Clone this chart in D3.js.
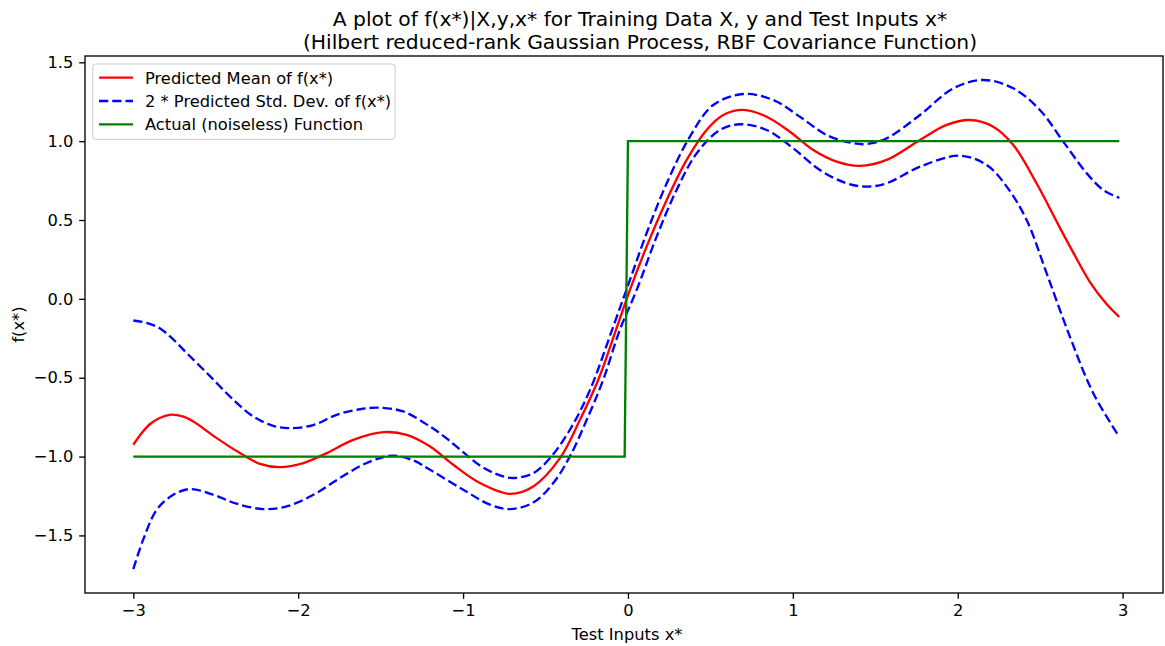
<!DOCTYPE html>
<html>
<head>
<meta charset="utf-8">
<script src="https://cdn.jsdelivr.net/npm/d3@7"></script>
<style>
  html, body { margin: 0; padding: 0; background: #fff; }
  svg { display: block; font-family: "DejaVu Sans", sans-serif; }
</style>
</head>
<body>
<svg id="chart" width="1165" height="646"></svg>
<script>
// ---------------- data ----------------
const titleLines = [
  "A plot of f(x*)|X,y,x* for Training Data X, y and Test Inputs x*",
  "(Hilbert reduced-rank Gaussian Process, RBF Covariance Function)"
];
const xLabel = "Test Inputs x*";
const yLabel = "f(x*)";
const legendLabels = [
  "Predicted Mean of f(x*)",
  "2 * Predicted Std. Dev. of f(x*)",
  "Actual (noiseless) Function"
];
const xTicks = [-3, -2, -1, 0, 1, 2, 3];
const yTicks = [-1.5, -1.0, -0.5, 0.0, 0.5, 1.0, 1.5];

const meanX = [-3.0, -2.95, -2.9, -2.84, -2.78, -2.7, -2.636, -2.494, -2.353, -2.232, -2.11, -1.969, -1.827,
  -1.666, -1.48, -1.342, -1.2, -1.059, -0.897, -0.716, -0.574, -0.412, -0.291, -0.18, -0.069, 0.012,
  0.113, 0.235, 0.356, 0.477, 0.578, 0.699, 0.841, 0.982, 1.124, 1.266, 1.407, 1.569, 1.771, 1.933,
  2.074, 2.215, 2.337, 2.478, 2.62, 2.7, 2.8, 2.9, 2.98];
const meanY = [-0.925, -0.852, -0.795, -0.755, -0.735, -0.745, -0.777, -0.883, -0.978, -1.046, -1.067, -1.041, -0.978,
  -0.894, -0.845, -0.862, -0.936, -1.052, -1.168, -1.236, -1.189, -1.01, -0.767, -0.513, -0.186, 0.057,
  0.331, 0.627, 0.881, 1.071, 1.166, 1.198, 1.155, 1.06, 0.944, 0.87, 0.843, 0.881, 1.008, 1.103,
  1.134, 1.092, 0.976, 0.733, 0.45, 0.295, 0.11, -0.03, -0.115];

const upperX = [-3.0, -2.92, -2.84, -2.76, -2.676, -2.535, -2.393, -2.272, -2.151, -2.05, -1.908, -1.767, -1.625, -1.514,
  -1.363, -1.2, -1.1, -1.0, -0.9, -0.8, -0.7, -0.574, -0.473, -0.352, -0.23, -0.089, 0.012, 0.113,
  0.235, 0.376, 0.517, 0.699, 0.881, 1.043, 1.205, 1.366, 1.45, 1.569, 1.771, 1.973, 2.155, 2.337,
  2.498, 2.64, 2.782, 2.882, 2.98];
const upperY = [-0.137, -0.152, -0.186, -0.255, -0.344, -0.49, -0.64, -0.746, -0.805, -0.82, -0.8, -0.735, -0.7, -0.69,
  -0.714, -0.81, -0.885, -0.972, -1.055, -1.11, -1.136, -1.105, -1.01, -0.83, -0.577, -0.175, 0.12, 0.416,
  0.733, 1.029, 1.229, 1.299, 1.261, 1.155, 1.039, 0.987, 0.982, 1.018, 1.166, 1.335, 1.388, 1.335,
  1.198, 0.997, 0.797, 0.691, 0.64];

const lowerX = [-3.0, -2.94, -2.858, -2.757, -2.656, -2.515, -2.373, -2.212, -2.07, -1.908, -1.747, -1.585,
  -1.43, -1.3, -1.2, -0.999, -0.837, -0.716, -0.574, -0.453, -0.352, -0.25, -0.15, -0.049, 0.053,
  0.174, 0.295, 0.417, 0.558, 0.679, 0.841, 1.002, 1.164, 1.326, 1.448, 1.569, 1.771, 2.013, 2.175,
  2.297, 2.418, 2.539, 2.68, 2.822, 2.98];
const lowerY = [-1.713, -1.527, -1.337, -1.242, -1.206, -1.242, -1.299, -1.333, -1.316, -1.242, -1.136, -1.041,
  -0.994, -1.025, -1.084, -1.21, -1.305, -1.333, -1.291, -1.168, -0.999, -0.767, -0.513, -0.196, 0.057,
  0.395, 0.691, 0.923, 1.071, 1.107, 1.071, 0.955, 0.817, 0.733, 0.712, 0.733, 0.838, 0.908, 0.849,
  0.712, 0.5, 0.163, -0.239, -0.598, -0.875];

const actualX = [-3.0, -0.02, 0.0, 2.98];
const actualY = [-1, -1, 1, 1];

// ---------------- layout ----------------
const pt = 120 / 72;               // matplotlib points -> px at 120 dpi
const plotLeft = 85, plotRight = 1163, plotTop = 56, plotBottom = 593;
const svg = d3.select("#chart");

const x = d3.scaleLinear().domain([-3.293, 3.245]).range([plotLeft, plotRight]);
const y = d3.scaleLinear().domain([-1.865, 1.54]).range([plotBottom, plotTop]);

svg.append("defs").append("clipPath").attr("id", "clip")
  .append("rect").attr("x", plotLeft).attr("y", plotTop)
  .attr("width", plotRight - plotLeft).attr("height", plotBottom - plotTop);

const zip = (xs, ys) => xs.map((v, i) => [v, ys[i]]);
const smooth = d3.line().x(d => x(d[0])).y(d => y(d[1])).curve(d3.curveCatmullRom.alpha(0.5));
const straight = d3.line().x(d => x(d[0])).y(d => y(d[1]));

const plot = svg.append("g").attr("clip-path", "url(#clip)");
const lw = 1.4 * pt;
const dash = `${3.7 * 1.5 * pt},${1.6 * 1.5 * pt}`;

plot.append("path").attr("d", smooth(zip(meanX, meanY)))
  .attr("fill", "none").attr("stroke", "#ff0000").attr("stroke-width", lw);
plot.append("path").attr("d", smooth(zip(upperX, upperY)))
  .attr("fill", "none").attr("stroke", "#0000ff").attr("stroke-width", lw).attr("stroke-dasharray", dash);
plot.append("path").attr("d", smooth(zip(lowerX, lowerY)))
  .attr("fill", "none").attr("stroke", "#0000ff").attr("stroke-width", lw).attr("stroke-dasharray", dash);
plot.append("path").attr("d", straight(zip(actualX, actualY)))
  .attr("fill", "none").attr("stroke", "#008000").attr("stroke-width", lw);

// ---------------- axes ----------------
const fontSize = 16.3;
const tickLen = 3.5 * pt, tickPad = 3.5 * pt;

const xAxis = d3.axisBottom(x).tickValues(xTicks).tickFormat(d3.format("d"))
  .tickSizeInner(tickLen).tickSizeOuter(0).tickPadding(tickPad);
const yAxis = d3.axisLeft(y).tickValues(yTicks).tickFormat(d3.format(".1f"))
  .tickSizeInner(tickLen).tickSizeOuter(0).tickPadding(tickPad);

const gx = svg.append("g").attr("transform", `translate(0,${plotBottom})`).call(xAxis);
const gy = svg.append("g").attr("transform", `translate(${plotLeft},0)`).call(yAxis);
[gx, gy].forEach(g => {
  g.select(".domain").remove();
  g.selectAll(".tick line").attr("stroke", "#000").attr("stroke-width", 0.8 * pt);
  g.selectAll(".tick text").attr("fill", "#000").style("font-size", fontSize + "px")
    .style("font-family", "'DejaVu Sans', sans-serif");
});

// spines
svg.append("rect").attr("x", plotLeft).attr("y", plotTop)
  .attr("width", plotRight - plotLeft).attr("height", plotBottom - plotTop)
  .attr("fill", "none").attr("stroke", "#000").attr("stroke-width", 0.8 * pt);

// labels
svg.append("text").attr("x", 627).attr("y", 640)
  .attr("text-anchor", "middle").style("font-size", fontSize + "px").text(xLabel);
svg.append("text").attr("transform", `translate(24,${(plotTop + plotBottom) / 2}) rotate(-90)`)
  .attr("text-anchor", "middle").style("font-size", fontSize + "px").text(yLabel);

// title
const titleSize = 20.3;
titleLines.forEach((t, i) => {
  svg.append("text").attr("x", 640).attr("y", 26 + i * 23)
    .attr("text-anchor", "middle").style("font-size", titleSize + "px").text(t);
});

// legend
const lg = svg.append("g");
lg.append("rect").attr("x", 92.7).attr("y", 64).attr("width", 302.3).attr("height", 75.3)
  .attr("rx", 3).attr("ry", 3)
  .attr("fill", "#fff").attr("fill-opacity", 0.8).attr("stroke", "#cccccc").attr("stroke-width", 1);
const legendStyles = [
  { color: "#ff0000", dash: null },
  { color: "#0000ff", dash: dash },
  { color: "#008000", dash: null }
];
legendLabels.forEach((lab, i) => {
  const cy = 77.7 + i * 23.3;
  lg.append("line").attr("x1", 99).attr("x2", 133).attr("y1", cy).attr("y2", cy)
    .attr("stroke", legendStyles[i].color).attr("stroke-width", lw)
    .attr("stroke-dasharray", legendStyles[i].dash);
  lg.append("text").attr("x", 145).attr("y", cy).attr("dy", "0.36em")
    .style("font-size", fontSize + "px").text(lab);
});
</script>
</body>
</html>
